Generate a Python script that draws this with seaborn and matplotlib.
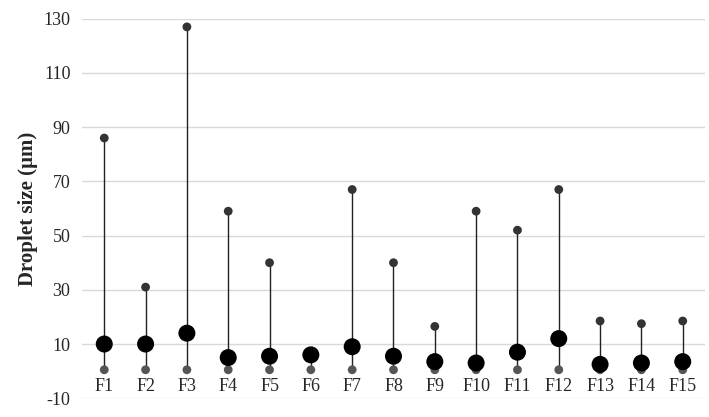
import numpy as np
import pandas as pd
import seaborn as sns
import matplotlib
matplotlib.use("Agg")
import matplotlib.pyplot as plt

formulas = [f"F{i}" for i in range(1, 16)]
size_max = [86, 31, 127, 59, 40, 6, 67, 40, 16.5, 59, 52, 67, 18.5, 17.5, 18.5]
size_mean = [10, 10, 14, 5, 5.5, 6, 9, 5.5, 3.5, 3, 7, 12, 2.5, 3, 3.5]
size_min = [0.5] * 15

df = pd.DataFrame({"formula": formulas, "max": size_max, "mean": size_mean, "min": size_min})

sns.set_theme(style="white")
plt.rcParams["font.family"] = ["Liberation Serif", "DejaVu Serif"]
plt.rcParams["axes.unicode_minus"] = False

fig, ax = plt.subplots(figsize=(7.09, 4.17), dpi=100)
fig.subplots_adjust(left=0.115, right=0.995, top=0.955, bottom=0.045)

x = np.arange(len(df))
ax.vlines(x, df["min"], df["max"], color="#222222", linewidth=1, zorder=2)
sns.scatterplot(x=x, y=df["max"], ax=ax, color="#333333", s=40, edgecolor="none", zorder=3, legend=False)
sns.scatterplot(x=x, y=df["min"], ax=ax, color="#555555", s=40, edgecolor="none", zorder=3, legend=False)
sns.scatterplot(x=x, y=df["mean"], ax=ax, color="black", s=150, edgecolor="none", zorder=4, legend=False)

ax.set_ylim(-10, 130)
ax.set_yticks(np.arange(-10, 131, 20))
ax.set_xlim(-0.55, len(df) - 0.45)
ax.yaxis.grid(True, color="#d9d9d9", linewidth=1)
ax.set_axisbelow(True)
for s in ax.spines.values():
    s.set_visible(False)
ax.set_xticks([])
ax.tick_params(axis="y", labelsize=13, length=0, pad=8)
for xi, name in zip(x, df["formula"]):
    ax.text(xi, -2.5, name, ha="center", va="top", fontsize=13)
ax.set_ylabel("Droplet size (µm)", fontsize=15, fontweight="bold")
ax.set_xlabel("")

fig.savefig("out.png", dpi=100)
